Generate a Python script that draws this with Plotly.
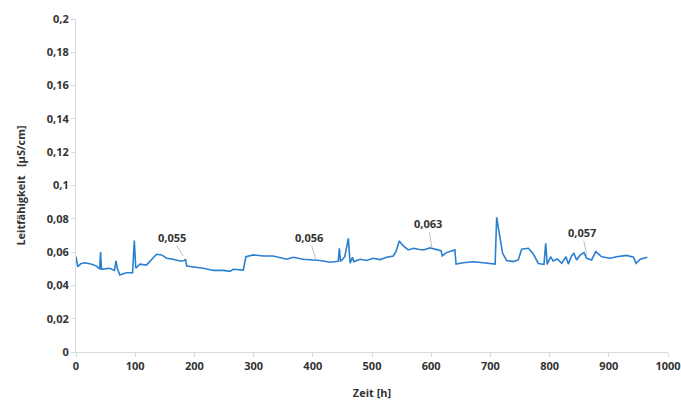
import plotly.graph_objects as go

hours = [0, 3, 8, 15, 25, 35, 40, 41.5, 43, 50, 57, 65, 67.5, 70, 74, 80, 85.6, 95.6, 98.5, 101,
         108, 119, 127.5, 136, 144.7, 153, 164, 175.7, 183, 185, 187, 198, 215, 232, 249, 260,
         265.7, 282.6, 287, 299.5, 316.4, 333, 356, 367, 384, 401, 412, 429, 443, 444.8, 447,
         454, 460, 463, 467, 469.5, 480, 491, 502, 513.5, 525, 536, 540.5, 546, 553, 561.3,
         570, 578, 586.6, 598, 609.6, 616.6, 618.7, 626, 640, 642, 654, 671, 688, 708, 710.6,
         715, 720.6, 727.4, 738.6, 747, 752.8, 764, 772.5, 781, 790.5, 793.4, 796, 801.6, 806,
         813, 820.4, 827.7, 831.6, 837.2, 841, 845.6, 851, 858, 862.6, 871, 877.9, 888, 902,
         913.3, 930, 941.7, 946, 953, 965]
conductivity = [0.0572, 0.0512, 0.053, 0.0536, 0.0528, 0.0516, 0.0497, 0.06, 0.0497, 0.0502,
                0.0503, 0.049, 0.0547, 0.050, 0.0462, 0.047, 0.0476, 0.0476, 0.0669, 0.0503,
                0.0528, 0.0522, 0.0552, 0.0587, 0.0583, 0.0563, 0.0557, 0.0547, 0.055, 0.0557,
                0.0516, 0.0512, 0.0503, 0.049, 0.049, 0.0484, 0.0497, 0.0492, 0.0572, 0.0583,
                0.0577, 0.0577, 0.0557, 0.0569, 0.0557, 0.0553, 0.055, 0.0539, 0.0545, 0.0623,
                0.0543, 0.0572, 0.0683, 0.0533, 0.0569, 0.0543, 0.0557, 0.055, 0.0563, 0.0555,
                0.0569, 0.0577, 0.0602, 0.0667, 0.0637, 0.0613, 0.0623, 0.0617, 0.0613, 0.0625,
                0.0613, 0.0609, 0.0577, 0.0597, 0.0613, 0.0528, 0.0536, 0.0542, 0.0536, 0.0528,
                0.0809, 0.0713, 0.0593, 0.055, 0.0543, 0.0553, 0.0617, 0.0623, 0.0589, 0.0532,
                0.0526, 0.0653, 0.0526, 0.0572, 0.0547, 0.0559, 0.0533, 0.0572, 0.0528, 0.0577,
                0.0593, 0.0553, 0.058, 0.0597, 0.0563, 0.0553, 0.0603, 0.0572, 0.0563, 0.0572,
                0.058, 0.0569, 0.0533, 0.0557, 0.0569]

label_texts = ["0,055", "0,056", "0,063", "0,057"]
label_x = [162, 394, 595, 855]
label_y = [0.0685, 0.0685, 0.0769, 0.072]
tip_x = [181, 405, 601, 863]
tip_y = [0.0577, 0.0557, 0.0622, 0.0575]

font_family = "Open Sans, Liberation Sans, sans-serif"
text_color = "#333333"

fig = go.Figure()
fig.add_trace(go.Scatter(x=hours, y=conductivity, mode="lines",
                         line=dict(color="#2a7fd0", width=1.6), showlegend=False))

for t, lx, ly, tx, ty in zip(label_texts, label_x, label_y, tip_x, tip_y):
    fig.add_annotation(x=tx, y=ty, ax=lx, ay=ly, axref="x", ayref="y", xref="x", yref="y",
                       showarrow=True, arrowhead=0, arrowwidth=1, arrowcolor="#bfbfbf",
                       standoff=0, startstandoff=7,
                       text="")
    fig.add_annotation(x=lx, y=ly, xref="x", yref="y", text="<b>" + t + "</b>",
                       showarrow=False, font=dict(size=11, color=text_color, family=font_family))

fig.update_layout(
    width=681, height=400,
    margin=dict(l=76, r=13, t=19, b=48),
    paper_bgcolor="white", plot_bgcolor="white",
    separators=",.",
    font=dict(family=font_family, size=11, color=text_color),
    xaxis=dict(range=[0, 1000], dtick=100, tick0=0, showgrid=False, zeroline=False,
               showline=True, linecolor="#d9d9d9", linewidth=1, automargin=False,
               ticks="outside", ticklen=4, tickcolor="#d9d9d9",
               tickfont=dict(size=11, color=text_color, family=font_family),
               tickprefix="<b>", ticksuffix="</b>",
               title=dict(text="<b>Zeit [h]</b>", font=dict(size=11, color=text_color), standoff=18)),
    yaxis=dict(range=[0, 0.2], dtick=0.02, tick0=0, showgrid=False, zeroline=False,
               showline=True, linecolor="#d9d9d9", linewidth=1, automargin=False,
               ticks="outside", ticklen=4, tickcolor="#d9d9d9",
               tickfont=dict(size=11, color=text_color, family=font_family),
               tickprefix="<b>", ticksuffix="</b>",
               title=dict(text="<b>Leitfähigkeit   [µS/cm]</b>", font=dict(size=11, color=text_color), standoff=18)),
)

fig.write_html("out.html", config={"displayModeBar": False},
               post_script="document.body.style.margin='0';document.body.style.overflow='hidden';")
